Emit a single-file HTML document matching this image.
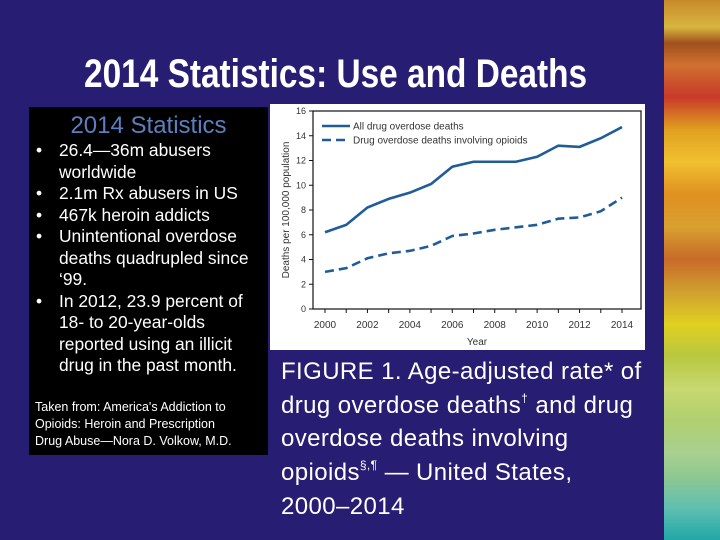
<!DOCTYPE html>
<html><head><meta charset="utf-8"><style>
body{margin:0;width:720px;height:540px;overflow:hidden;background:#271d72;position:relative;font-family:"Liberation Sans",sans-serif}
#title{position:absolute;left:84px;top:52px;font-size:40px;font-weight:bold;color:#fff;white-space:nowrap;transform-origin:0 0;transform:scaleX(0.835);font-family:"Liberation Sans Narrow","Liberation Sans",sans-serif}
#box{position:absolute;left:29px;top:107px;width:239px;height:348px;background:#000;color:#fff}
#box .h{position:absolute;left:0;width:239px;top:5px;text-align:center;color:#5b7fc0;font-size:24px}
#box ul{position:absolute;left:4px;top:33px;margin:0;padding:0;list-style:none;font-size:17.4px;line-height:21.5px;white-space:nowrap}
#box li{position:relative;padding-left:26px}
#box li:before{content:"•";position:absolute;left:3px}
#box .src{position:absolute;left:6px;top:292px;font-size:12.5px;line-height:17px;white-space:nowrap}
#chartbox{position:absolute;left:270px;top:104px;width:375px;height:246px;background:#fff}
#cap{position:absolute;left:281px;top:355px;color:#fff;font-size:24px;line-height:33.7px;letter-spacing:0.4px;white-space:nowrap}
#cap sup{font-size:12px;line-height:0;position:relative;top:-2px}
#stripe{position:absolute;left:664px;top:0;width:56px;height:540px;background:linear-gradient(#c88a2a 0%,#d8b640 5%,#a0501e 8%,#d07030 12%,#c83a2a 18%,#e0a020 24%,#f0c030 30%,#e09020 36%,#d8a030 42%,#c86a28 48%,#d0a030 54%,#e0d020 60%,#b8c840 66%,#c8d870 72%,#b0d070 78%,#a8d090 84%,#90c890 88%,#60c0b0 94%,#20a8a8 100%)}
</style></head><body>
<div id="title">2014 Statistics: Use and Deaths</div>
<div id="box">
<div class="h">2014 Statistics</div>
<ul>
<li>26.4—36m abusers<br>worldwide</li>
<li>2.1m Rx abusers in US</li>
<li>467k heroin addicts</li>
<li>Unintentional overdose<br>deaths quadrupled since<br>‘99.</li>
<li>In 2012, 23.9 percent of<br>18- to 20-year-olds<br>reported using an illicit<br>drug in the past month.</li>
</ul>
<div class="src">Taken from: America's Addiction to<br>Opioids: Heroin and Prescription<br>Drug Abuse—Nora D. Volkow, M.D.</div>
</div>
<div id="chartbox">
<svg id="chart" width="375" height="246"></svg>
</div>
<div id="cap">FIGURE 1. Age-adjusted rate* of<br>drug overdose deaths<sup>†</sup> and drug<br>overdose deaths involving<br>opioids<sup>§,¶</sup> — United States,<br>2000–2014</div>
<div id="stripe"></div>
<script>
const years=[2000,2001,2002,2003,2004,2005,2006,2007,2008,2009,2010,2011,2012,2013,2014];
const allDeaths=[6.2,6.8,8.2,8.9,9.4,10.1,11.5,11.9,11.9,11.9,12.3,13.2,13.1,13.8,14.7];
const opioidDeaths=[3.0,3.3,4.1,4.5,4.7,5.1,5.9,6.1,6.4,6.6,6.8,7.3,7.4,7.9,9.0];
const yTicks=[0,2,4,6,8,10,12,14,16];
const xLabels=[2000,2002,2004,2006,2008,2010,2012,2014];
const svg=document.getElementById('chart');const NS='http://www.w3.org/2000/svg';
const L=43,R=371,T=7,B=205,X0=55,X1=352;
const x=v=>X0+(v-2000)/(2014-2000)*(X1-X0);
const y=v=>B-v/16*(B-T);
function mk(t,a){const e=document.createElementNS(NS,t);for(const k in a)e.setAttribute(k,a[k]);svg.appendChild(e);return e;}
const fr=mk('rect',{x:L,y:T,width:R-L,height:B-T,fill:'none',stroke:'#111','stroke-width':1.2});

yTicks.forEach(v=>{const l=mk('line',{x1:L-4,x2:L,y1:y(v),y2:y(v),stroke:'#111'});

const t=mk('text',{x:L-7,y:y(v)+3,'font-size':9,'text-anchor':'end',fill:'#333'});t.textContent=v;
});
years.forEach(v=>{const l=mk('line',{x1:x(v),x2:x(v),y1:B,y2:B+4,stroke:'#111'});
});
xLabels.forEach(v=>{const t=mk('text',{x:x(v),y:B+19,'font-size':10,'text-anchor':'middle',fill:'#333'});t.textContent=v;
});
const xt=mk('text',{x:(L+R)/2,y:B+36,'font-size':10,'text-anchor':'middle',fill:'#333'});xt.textContent='Year';

const yt=mk('text',{x:0,y:0,'font-size':10,'text-anchor':'middle',fill:'#333',transform:`translate(19,${(T+B)/2}) rotate(-90)`});yt.textContent='Deaths per 100,000 population';

function line(d,dash,name){const p=mk('polyline',{points:d.map((v,i)=>x(years[i])+','+y(v)).join(' '),fill:'none',stroke:'#1f5c9a','stroke-width':2.6,'stroke-dasharray':dash});
}
line(allDeaths,'none','all-deaths-line');line(opioidDeaths,'9,5','opioid-deaths-line');
[[0,'none','All drug overdose deaths'],[1,'9,5','Drug overdose deaths involving opioids']].forEach(([i,d,s])=>{
const yy=T+15+i*14;const l=mk('line',{x1:L+9,x2:L+37,y1:yy,y2:yy,stroke:'#1f5c9a','stroke-width':2.6,'stroke-dasharray':d});

const t=mk('text',{x:L+40,y:yy+3.5,'font-size':10,fill:'#333'});t.textContent=s;
});
</script>
</body></html>
